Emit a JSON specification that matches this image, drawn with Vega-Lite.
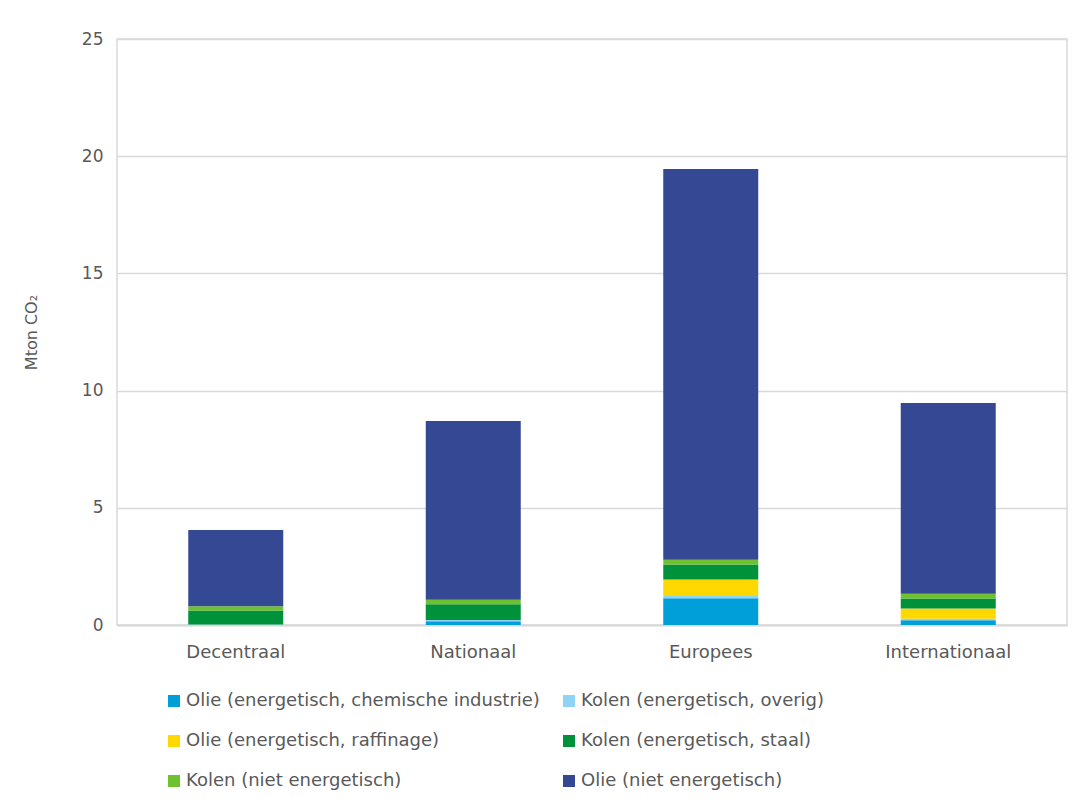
{
  "$schema": "https://vega.github.io/schema/vega-lite/v6.json",
  "width": 950,
  "height": 586,
  "autosize": {"type": "none"},
  "padding": {"left": 117, "top": 39, "right": 19, "bottom": 182},
  "background": "white",
  "config": {
    "font": "DejaVu Sans",
    "view": {"stroke": "#d9d9d9", "strokeWidth": 1.5},
    "axis": {"labelColor": "#595959", "titleColor": "#595959", "labelFontSize": 17, "titleFontWeight": "normal"}
  },
  "datasets": {
    "volgorde": [
      {"bron": "Olie (energetisch, chemische industrie)", "rang": 1},
      {"bron": "Kolen (energetisch, overig)", "rang": 2},
      {"bron": "Olie (energetisch, raffinage)", "rang": 3},
      {"bron": "Kolen (energetisch, staal)", "rang": 4},
      {"bron": "Kolen (niet energetisch)", "rang": 5},
      {"bron": "Olie (niet energetisch)", "rang": 6}
    ]
  },
  "data": {
    "values": [
      {"niveau": "Decentraal", "bron": "Olie (energetisch, chemische industrie)", "waarde": 0.0},
      {"niveau": "Decentraal", "bron": "Kolen (energetisch, overig)", "waarde": 0.02},
      {"niveau": "Decentraal", "bron": "Olie (energetisch, raffinage)", "waarde": 0.0},
      {"niveau": "Decentraal", "bron": "Kolen (energetisch, staal)", "waarde": 0.6},
      {"niveau": "Decentraal", "bron": "Kolen (niet energetisch)", "waarde": 0.18},
      {"niveau": "Decentraal", "bron": "Olie (niet energetisch)", "waarde": 3.25},
      {"niveau": "Nationaal", "bron": "Olie (energetisch, chemische industrie)", "waarde": 0.16},
      {"niveau": "Nationaal", "bron": "Kolen (energetisch, overig)", "waarde": 0.05},
      {"niveau": "Nationaal", "bron": "Olie (energetisch, raffinage)", "waarde": 0.0},
      {"niveau": "Nationaal", "bron": "Kolen (energetisch, staal)", "waarde": 0.67},
      {"niveau": "Nationaal", "bron": "Kolen (niet energetisch)", "waarde": 0.2},
      {"niveau": "Nationaal", "bron": "Olie (niet energetisch)", "waarde": 7.62},
      {"niveau": "Europees", "bron": "Olie (energetisch, chemische industrie)", "waarde": 1.14},
      {"niveau": "Europees", "bron": "Kolen (energetisch, overig)", "waarde": 0.1},
      {"niveau": "Europees", "bron": "Olie (energetisch, raffinage)", "waarde": 0.7},
      {"niveau": "Europees", "bron": "Kolen (energetisch, staal)", "waarde": 0.64},
      {"niveau": "Europees", "bron": "Kolen (niet energetisch)", "waarde": 0.2},
      {"niveau": "Europees", "bron": "Olie (niet energetisch)", "waarde": 16.67},
      {"niveau": "Internationaal", "bron": "Olie (energetisch, chemische industrie)", "waarde": 0.2},
      {"niveau": "Internationaal", "bron": "Kolen (energetisch, overig)", "waarde": 0.07},
      {"niveau": "Internationaal", "bron": "Olie (energetisch, raffinage)", "waarde": 0.43},
      {"niveau": "Internationaal", "bron": "Kolen (energetisch, staal)", "waarde": 0.43},
      {"niveau": "Internationaal", "bron": "Kolen (niet energetisch)", "waarde": 0.2},
      {"niveau": "Internationaal", "bron": "Olie (niet energetisch)", "waarde": 8.14}
    ]
  },
  "transform": [
    {"lookup": "bron", "from": {"data": {"name": "volgorde"}, "key": "bron", "fields": ["rang"]}}
  ],
  "mark": {"type": "bar"},
  "encoding": {
    "x": {
      "field": "niveau", "type": "nominal",
      "sort": ["Decentraal", "Nationaal", "Europees", "Internationaal"],
      "scale": {"paddingInner": 0.6, "paddingOuter": 0.3},
      "axis": {"title": null, "labelAngle": 0, "labelFontSize": 18, "ticks": false, "domain": true, "domainColor": "#d9d9d9", "domainWidth": 2, "labelPadding": 18}
    },
    "y": {
      "field": "waarde", "type": "quantitative", "aggregate": "sum",
      "scale": {"domain": [0, 25]},
      "axis": {"title": "Mton CO₂", "titleFontSize": 16, "titlePadding": 42, "values": [0, 5, 10, 15, 20, 25], "ticks": false, "domain": false, "gridColor": "#d9d9d9", "gridWidth": 1.5, "labelPadding": 14}
    },
    "order": {"field": "rang", "type": "quantitative", "aggregate": "min", "sort": "ascending"},
    "color": {
      "field": "bron", "type": "nominal",
      "sort": ["Olie (energetisch, chemische industrie)", "Kolen (energetisch, overig)", "Olie (energetisch, raffinage)", "Kolen (energetisch, staal)", "Kolen (niet energetisch)", "Olie (niet energetisch)"],
      "scale": {
        "domain": ["Olie (energetisch, chemische industrie)", "Kolen (energetisch, overig)", "Olie (energetisch, raffinage)", "Kolen (energetisch, staal)", "Kolen (niet energetisch)", "Olie (niet energetisch)"],
        "range": ["#009fda", "#8fd3f5", "#ffd800", "#00923a", "#6ec22f", "#344893"]
      },
      "legend": {
        "title": null, "orient": "none", "legendX": 48, "legendY": 653, "columns": 2, "direction": "horizontal",
        "symbolType": "square", "symbolSize": 144, "symbolStrokeWidth": 0,
        "labelFontSize": 18, "labelColor": "#595959", "labelLimit": 500, "labelOffset": 3,
        "rowPadding": 22, "columnPadding": 20
      }
    }
  }
}
